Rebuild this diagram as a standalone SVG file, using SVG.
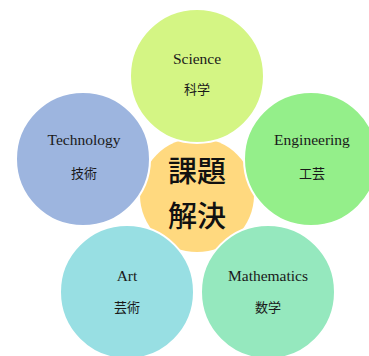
<svg xmlns="http://www.w3.org/2000/svg" width="369" height="356" viewBox="0 0 369 356">
<style>
.c{stroke:#fff;stroke-width:2}
.en{font-family:"Liberation Serif","Noto Serif",serif;font-size:15.5px;fill:#1a1a1a;text-anchor:middle}
.jp{font-family:"Noto Sans CJK JP","Noto Sans CJK SC",sans-serif;font-size:13px;fill:#1a1a1a;text-anchor:middle}
.ct{font-family:"Noto Sans CJK JP","Noto Sans CJK SC",serif;font-size:29px;font-weight:500;fill:#111;text-anchor:middle}
</style>
<rect width="369" height="356" fill="#fff"/>
<g id="center">
<circle cx="197" cy="195" r="57" fill="#FFD97F"/>
</g>
<g id="science">
<circle class="c" cx="197" cy="76" r="67" fill="#D4F584"/>
<text class="en" x="197" y="64">Science</text>
<text class="jp" x="197" y="94">科学</text>
</g>
<g id="technology">
<circle class="c" cx="83" cy="159" r="67" fill="#9DB5DF"/>
<text class="en" x="84" y="145">Technology</text>
<text class="jp" x="84" y="178">技術</text>
</g>
<g id="engineering">
<circle class="c" cx="311" cy="159" r="67" fill="#94EF8A"/>
<text class="en" x="312" y="145">Engineering</text>
<text class="jp" x="312" y="178">工芸</text>
</g>
<g id="art">
<circle class="c" cx="127" cy="292" r="67" fill="#98DFE3"/>
<text class="en" x="127" y="281">Art</text>
<text class="jp" x="127" y="312">芸術</text>
</g>
<g id="mathematics">
<circle class="c" cx="268" cy="292" r="67" fill="#95E8BE"/>
<text class="en" x="268" y="281">Mathematics</text>
<text class="jp" x="268" y="312">数学</text>
</g>
<g id="center-label">
<text class="ct" x="197" y="182">課題</text>
<text class="ct" x="197" y="227">解決</text>
</g>
<g id="connectors"></g>
</svg>
